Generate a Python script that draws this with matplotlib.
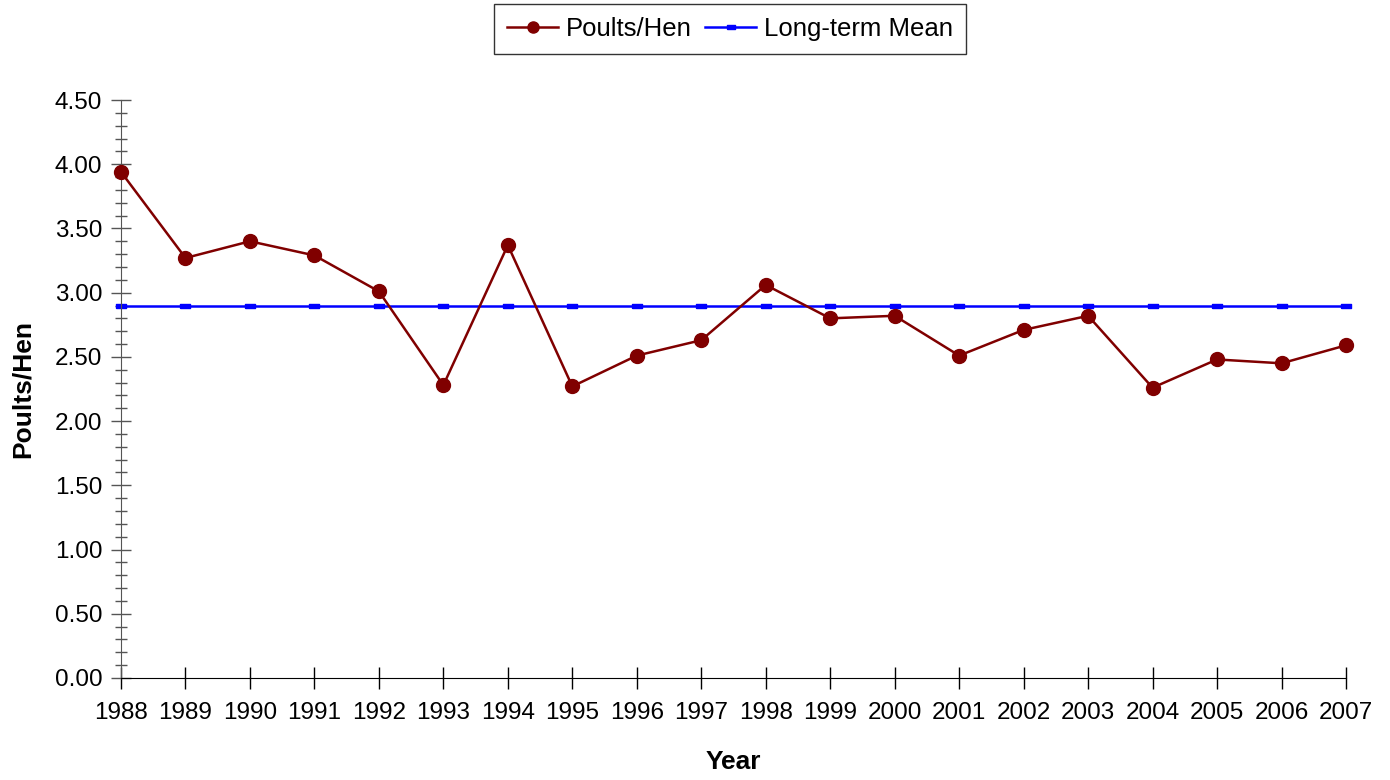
import matplotlib
matplotlib.use("Agg")
import matplotlib.pyplot as plt
from matplotlib.ticker import MultipleLocator, FormatStrFormatter

plt.rcParams['font.family'] = ['Liberation Sans', 'DejaVu Sans']

years = list(range(1988, 2008))
poults_per_hen = [3.94, 3.27, 3.40, 3.29, 3.01, 2.28, 3.37, 2.27, 2.51, 2.63,
                  3.06, 2.80, 2.82, 2.51, 2.71, 2.82, 2.26, 2.48, 2.45, 2.59]
long_term_mean = [2.90] * len(years)
year_labels = [str(y) for y in years]

fig = plt.figure(figsize=(13.9, 7.8), dpi=100)
ax = fig.add_axes([121/1390, 1-678/780, (1346-121)/1390, (678-100)/780])

rect = [(-1, -0.5), (1, -0.5), (1, 0.5), (-1, 0.5), (-1, -0.5)]
ax.plot(years, poults_per_hen, color='#800000', lw=1.8, marker='o', ms=10,
        label='Poults/Hen', clip_on=False, zorder=3)
ax.plot(years, long_term_mean, color='#0000FF', lw=1.8, marker=rect, ms=7,
        label='Long-term Mean', clip_on=False, zorder=2)

ax.set_xlim(1988, 2007)
ax.set_ylim(0, 4.5)
ax.set_xticks(years)
ax.set_xticklabels(year_labels)
ax.yaxis.set_major_locator(MultipleLocator(0.5))
ax.yaxis.set_minor_locator(MultipleLocator(0.1))
ax.yaxis.set_major_formatter(FormatStrFormatter('%.2f'))

for s in ['top', 'right']:
    ax.spines[s].set_visible(False)
ax.spines['left'].set_color('#555555')
ax.spines['bottom'].set_color('black')
ax.tick_params(axis='y', which='major', direction='inout', length=15, width=1,
               colors='#555555', labelcolor='black', labelsize=17.5, pad=6)
ax.tick_params(axis='y', which='minor', direction='inout', length=9, width=1,
               colors='#555555')
ax.tick_params(axis='x', which='major', direction='inout', length=16, width=1,
               labelsize=17.5, pad=9)

ax.set_xlabel('Year', fontsize=19, fontweight='bold', labelpad=19)
ax.set_ylabel('Poults/Hen', fontsize=19, fontweight='bold', labelpad=14)

leg = fig.legend(loc='center', bbox_to_anchor=(730/1390, 1-29/780), ncol=2,
                 fontsize=18.5, frameon=True, fancybox=False, edgecolor='black',
                 handlelength=2.0, handletextpad=0.3, columnspacing=0.5,
                 borderpad=0.5, markerscale=0.8)
leg.get_frame().set_linewidth(1.0)

fig.savefig('out.png', dpi=100)
